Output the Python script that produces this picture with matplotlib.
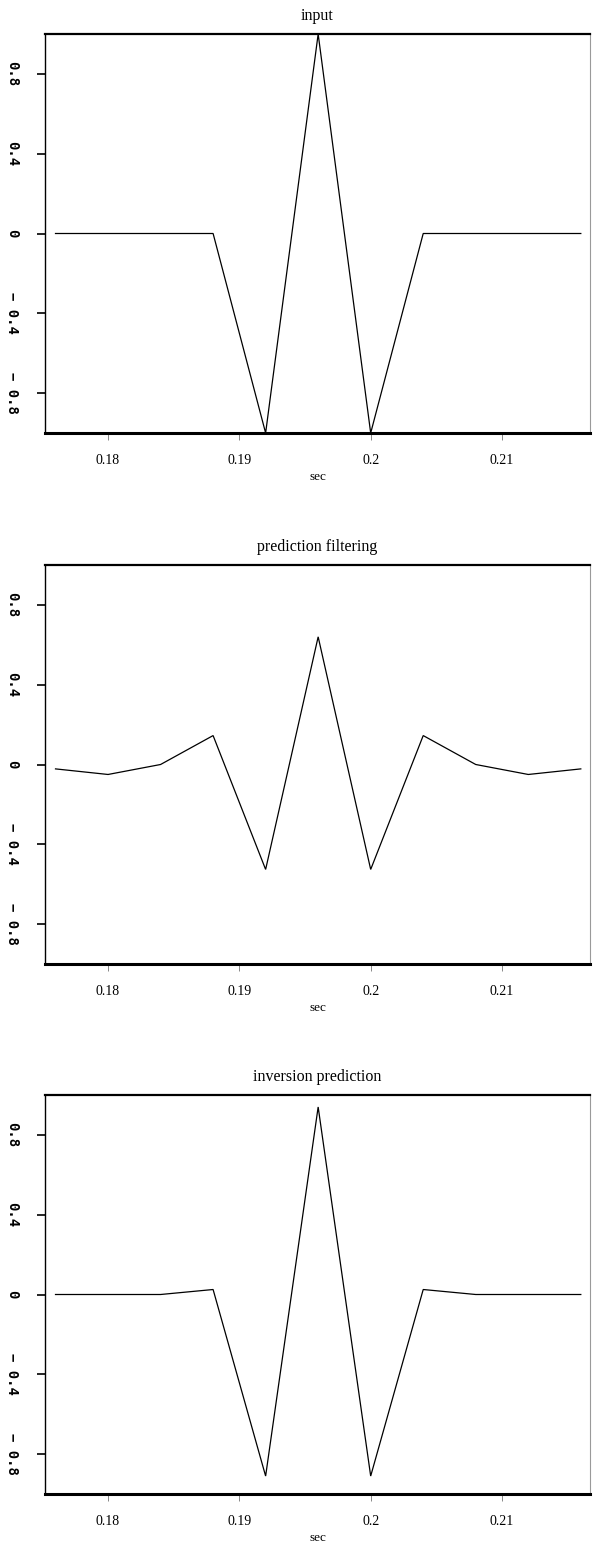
import matplotlib.pyplot as plt
import numpy as np

# time axis (sec), 4 ms sampling
t = [0.176, 0.180, 0.184, 0.188, 0.192, 0.196, 0.200, 0.204, 0.208, 0.212, 0.216]

input_trace = [0, 0, 0, 0, -1.0, 1.0, -1.0, 0, 0, 0, 0]
pred_filter = [-0.022, -0.05, 0, 0.145, -0.526, 0.64, -0.526, 0.145, 0, -0.05, -0.022]
inv_pred = [0, 0, 0, 0.025, -0.91, 0.94, -0.91, 0.025, 0, 0, 0]

titles = ["input", "prediction filtering", "inversion prediction"]
traces = [input_trace, pred_filter, inv_pred]

xticks = [0.18, 0.19, 0.2, 0.21]
xtick_labels = ["0.18", "0.19", "0.2", "0.21"]
yticks = [-0.8, -0.4, 0, 0.4, 0.8]
ytick_labels = ["\u2212 0.8", "\u2212 0.4", "0", "0.4", "0.8"]

narrow = dict(family="Liberation Serif", stretch="condensed")

fig = plt.figure(figsize=(5.94, 15.44), dpi=100)
W, H = 594.0, 1544.0
tops = [34, 565, 1095]
ax_h = 399

for top, title, y in zip(tops, titles, traces):
    ax = fig.add_axes([45 / W, (H - top - ax_h) / H, 545 / W, ax_h / H])
    ax.plot(t, y, color="black", lw=0.9, solid_joinstyle="miter")
    ax.set_xlim(0.1752, 0.2167)
    ax.set_ylim(-1.0, 1.0)

    # frame: heavy top/bottom, thin left, light grey right
    ax.spines["top"].set_linewidth(1.6)
    ax.spines["bottom"].set_linewidth(2.2)
    ax.spines["left"].set_linewidth(1.0)
    ax.spines["right"].set_linewidth(0.8)
    ax.spines["right"].set_color("#9a9a9a")

    ax.set_xticks(xticks)
    ax.set_xticklabels(xtick_labels, fontsize=10, **narrow)
    ax.tick_params(axis="x", direction="out", length=5, width=0.7,
                   color="#888888", pad=10)

    ax.set_yticks(yticks)
    ax.set_yticklabels(ytick_labels, fontsize=10, family="DejaVu Sans Mono",
                       fontweight="semibold", rotation=-90, va="center", ha="center")
    ax.tick_params(axis="y", direction="out", length=6, width=1.2, pad=18)

    ax.set_title(title, fontsize=11.5, pad=10, **narrow)
    ax.set_xlabel("sec", fontsize=9.5, labelpad=3, **narrow)

fig.savefig("out.png", dpi=100)
